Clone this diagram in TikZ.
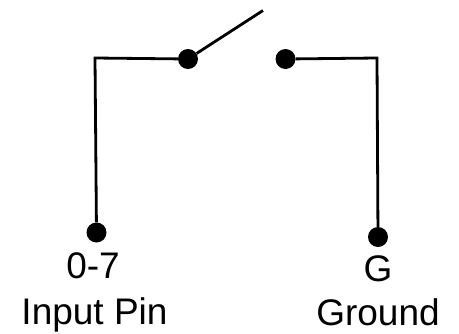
\documentclass[tikz,border=0pt]{standalone}
\usepackage{fontspec}
\setmainfont{Liberation Sans}
\begin{document}
\begin{tikzpicture}[x=1pt,y=-1pt]
\tikzset{pin/.style={circle,fill=black,inner sep=0pt,minimum size=20pt}}
\tikzset{wire/.style={line width=2.8pt,black}}
\tikzset{lbl/.style={font=\fontsize{37}{40}\selectfont,inner sep=0pt,anchor=base}}
\useasboundingbox (0,0) rectangle (459,333);

\node[pin] (in) at (96.5,232.5) {};
\node[pin] (left) at (188,59) {};
\node[pin] (right) at (285.5,59) {};
\node[pin] (gnd) at (378,237) {};
\coordinate (leftcorner) at (95,58);
\coordinate (rightcorner) at (377,58);
\coordinate (blade) at (263,10.5);

\draw[wire] (in) -- (leftcorner) -- (left);
\draw[wire] (right) -- (rightcorner) -- (gnd);
\draw[wire] (left) -- (blade);

\node[lbl] (pinnum) at (93,278) {0-7};
\node[lbl] (pinname) at (94.5,324.5) {Input Pin};
\node[lbl] (gndnum) at (378,281) {G};
\node[lbl] (gndname) at (378,325.5) {Ground};
\end{tikzpicture}
\end{document}
